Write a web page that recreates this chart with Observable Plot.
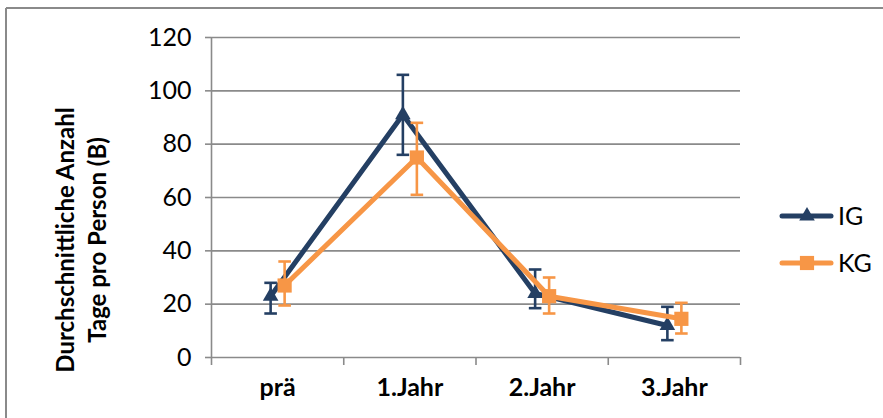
<!DOCTYPE html>
<html>
<head>
<meta charset="utf-8">
<script src="https://cdn.jsdelivr.net/npm/d3@7"></script>
<script src="https://cdn.jsdelivr.net/npm/@observablehq/plot@0.6"></script>
<style>
  html, body { margin: 0; padding: 0; background: white; }
</style>
</head>
<body>
<div id="chart"></div>
<script>
const categories = ["prä", "1.Jahr", "2.Jahr", "3.Jahr"];
const yTicks = [0, 20, 40, 60, 80, 100, 120];
const seriesNames = ["IG", "KG"];
const seriesColors = ["#243f63", "#f79646"];
const igMean = [23, 91, 24, 12];
const igLow = [16.5, 76, 18.5, 6.5];
const igHigh = [28, 106, 33, 19];
const kgMean = [27, 75, 23, 14.5];
const kgLow = [19.5, 61, 16.5, 9];
const kgHigh = [36, 88, 30, 20.5];
const yTitle = ["Durchschnittliche Anzahl", "Tage pro Person (B)"];

const series = [
  {name: seriesNames[0], color: seriesColors[0], symbol: "triangle", r: 5.8, dx: -7, mean: igMean, low: igLow, high: igHigh},
  {name: seriesNames[1], color: seriesColors[1], symbol: "square", r: 8, dx: 7, mean: kgMean, low: kgLow, high: kgHigh}
];

const capSymbol = {
  draw(ctx) { ctx.moveTo(-6.3, 0); ctx.lineTo(6.3, 0); }
};

const boundaries = d3.range(-0.5, categories.length, 1);
const gray = "#8a8a8a";
const font = "Lato, 'Open Sans', sans-serif";

const marks = [
  Plot.gridY(yTicks, {stroke: gray, strokeOpacity: 1, strokeWidth: 1.6}),
  Plot.ruleX([-0.5], {stroke: gray, strokeWidth: 1.6}),
  Plot.axisY(yTicks, {tickSize: 6, tickPadding: 14, stroke: gray, strokeWidth: 1.6, fill: "#000", fontSize: 25, label: null}),
  Plot.axisX(boundaries, {tickSize: 8, stroke: gray, strokeWidth: 1.6, tickFormat: () => "", label: null}),
  Plot.axisX(d3.range(categories.length), {tickSize: 0, tickPadding: 21, tickFormat: i => categories[i], fontWeight: "bold", fontSize: 25, fill: "#000", label: null})
];

for (const s of series) {
  const rows = categories.map((c, i) => ({i, cat: c, mean: s.mean[i], low: s.low[i], high: s.high[i]}));
  marks.push(
    Plot.line(rows, {x: "i", y: "mean", stroke: s.color, strokeWidth: 5, dx: s.dx, strokeLinejoin: "miter"}),
    Plot.ruleX(rows, {x: "i", y1: "low", y2: "high", stroke: s.color, strokeWidth: 2.6, dx: s.dx}),
    Plot.dot(rows, {x: "i", y: "low", symbol: capSymbol, stroke: s.color, strokeWidth: 2.6, dx: s.dx, r: 3}),
    Plot.dot(rows, {x: "i", y: "high", symbol: capSymbol, stroke: s.color, strokeWidth: 2.6, dx: s.dx, r: 3}),
    Plot.dot(rows, {x: "i", y: "mean", symbol: s.symbol, fill: s.color, stroke: "none", r: s.r, dx: s.dx})
  );
}

const chart = Plot.plot({
  width: 883,
  height: 418,
  marginLeft: 211,
  marginRight: 143,
  marginTop: 37,
  marginBottom: 61,
  x: {type: "linear", domain: [-0.5, categories.length - 0.5]},
  y: {domain: [0, 120]},
  style: {fontFamily: font, fontSize: "25px", color: "#000", background: "white"},
  marks
});

const svg = d3.select(chart);
// outer chart border (top and left visible)
svg.append("line").attr("x1", 6).attr("x2", 883).attr("y1", 8).attr("y2", 8).attr("stroke", gray).attr("stroke-width", 2);
svg.append("line").attr("x1", 6).attr("x2", 6).attr("y1", 8).attr("y2", 418).attr("stroke", gray).attr("stroke-width", 2);

// y title
const yt = svg.append("text")
  .attr("transform", "translate(0,240) rotate(-90)")
  .attr("text-anchor", "middle")
  .attr("font-family", font)
  .attr("font-weight", "bold")
  .attr("font-size", 24)
  .attr("fill", "#000");
yTitle.forEach((t, k) => {
  yt.append("tspan").attr("x", 0).attr("y", 74 + k * 32).text(t);
});

// legend
const legendY = [216, 263];
series.forEach((s, k) => {
  const g = svg.append("g").attr("transform", `translate(0,${legendY[k]})`);
  g.append("line").attr("x1", 782).attr("x2", 831).attr("y1", 0).attr("y2", 0)
    .attr("stroke", s.color).attr("stroke-width", 5).attr("stroke-linecap", "round");
  g.append("path")
    .attr("transform", "translate(807,0)")
    .attr("d", d3.symbol(s.symbol === "triangle" ? d3.symbolTriangle : d3.symbolSquare, Math.PI * s.r * s.r)())
    .attr("fill", s.color);
  g.append("text").attr("x", 838).attr("y", 0).attr("dy", "0.36em")
    .attr("text-anchor", "start")
    .attr("font-family", font).attr("font-size", 25).attr("fill", "#000").text(s.name);
});

document.getElementById("chart").appendChild(chart);
</script>
</body>
</html>
